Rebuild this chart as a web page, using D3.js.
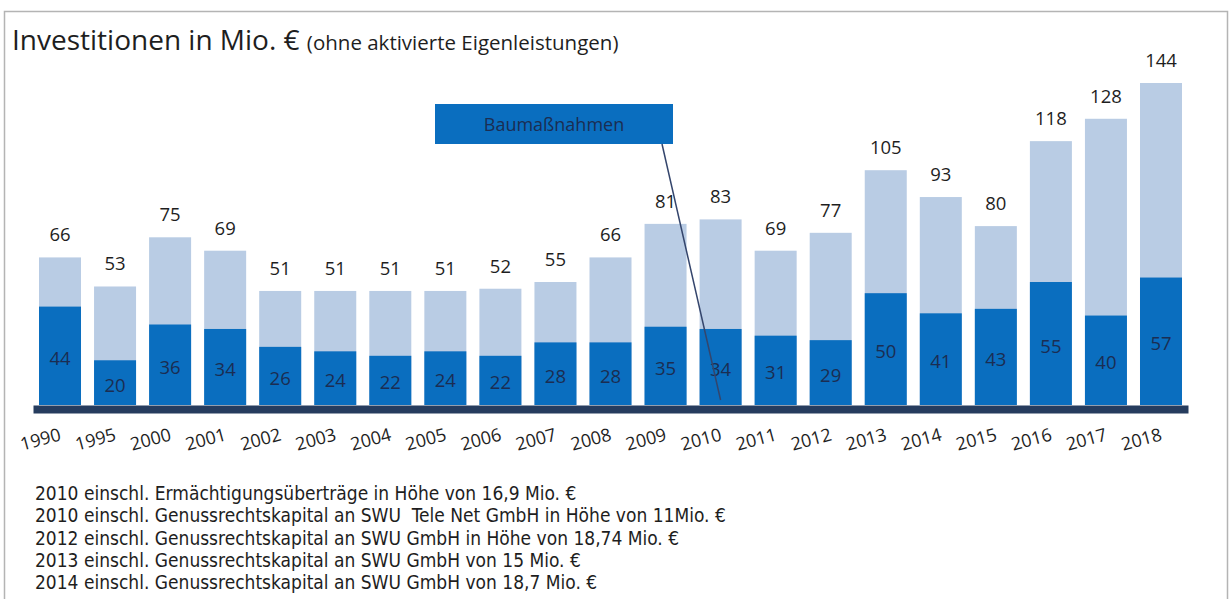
<!DOCTYPE html>
<html lang="de">
<head>
<meta charset="utf-8">
<title>Investitionen in Mio. €</title>
<script src="https://cdn.jsdelivr.net/npm/d3@7"></script>
<style>
  body { margin: 0; background: #fff; }
  svg { display: block; font-family: "Open Sans", sans-serif; }
</style>
</head>
<body>
<script>
// data
var years = ["1990","1995","2000","2001","2002","2003","2004","2005","2006","2007",
             "2008","2009","2010","2011","2012","2013","2014","2015","2016","2017","2018"];
var totals = [66, 53, 75, 69, 51, 51, 51, 51, 52, 55, 66, 81, 83, 69, 77, 105, 93, 80, 118, 128, 144];
var bau    = [44, 20, 36, 34, 26, 24, 22, 24, 22, 28, 28, 35, 34, 31, 29, 50, 41, 43, 55, 40, 57];
var notes = [
  "2010 einschl. Ermächtigungsüberträge in Höhe von 16,9 Mio. €",
  "2010 einschl. Genussrechtskapital an SWU  Tele Net GmbH in Höhe von 11Mio. €",
  "2012 einschl. Genussrechtskapital an SWU GmbH in Höhe von 18,74 Mio. €",
  "2013 einschl. Genussrechtskapital an SWU GmbH von 15 Mio. €",
  "2014 einschl. Genussrechtskapital an SWU GmbH von 18,7 Mio. €"
];

var w = 1230, h = 599;
var base = 405;

var rows = years.map(function(y, i) { return { year: y, total: totals[i], bau: bau[i] }; });

var x = d3.scaleBand()
  .domain(years)
  .range([33, 1188])
  .paddingInner(0.237)
  .paddingOuter(0.109);

var y = d3.scaleLinear()
  .domain([0, 144])
  .range([base, 83]);

var svg = d3.select("body").append("svg")
  .attr("width", w)
  .attr("height", h);

// frame
svg.append("path")
  .attr("d", "M4.5," + h + "V11.5H1227.5V" + h)
  .attr("fill", "none")
  .attr("stroke", "#b4b4b4")
  .attr("stroke-width", 1.5);

// title
var title = svg.append("text")
  .attr("x", 12)
  .attr("y", 50)
  .attr("fill", "#1e1e1e");
title.append("tspan").attr("font-size", "28px").text("Investitionen in Mio. € ");
title.append("tspan").attr("font-size", "20.5px").text("(ohne aktivierte Eigenleistungen)");

// total bars
svg.selectAll("rect.total")
  .data(rows)
  .enter().append("rect")
  .attr("class", "total")
  .attr("x", function(d) { return x(d.year); })
  .attr("y", function(d) { return y(d.total); })
  .attr("width", x.bandwidth())
  .attr("height", function(d) { return base - y(d.total); })
  .attr("fill", "#b9cce4");

// Baumaßnahmen bars
svg.selectAll("rect.bau")
  .data(rows)
  .enter().append("rect")
  .attr("class", "bau")
  .attr("x", function(d) { return x(d.year); })
  .attr("y", function(d) { return y(d.bau); })
  .attr("width", x.bandwidth())
  .attr("height", function(d) { return base - y(d.bau); })
  .attr("fill", "#0a6ebf");

// total labels
svg.selectAll("text.tot")
  .data(rows)
  .enter().append("text")
  .attr("class", "tot")
  .attr("text-anchor", "middle")
  .attr("x", function(d) { return x(d.year) + x.bandwidth() / 2; })
  .attr("y", function(d) { return y(d.total) - 16; })
  .attr("font-size", "18.5px")
  .attr("fill", "#1e1e1e")
  .text(function(d) { return d.total; });

// inner labels
svg.selectAll("text.bauLbl")
  .data(rows)
  .enter().append("text")
  .attr("class", "bauLbl")
  .attr("text-anchor", "middle")
  .attr("x", function(d) { return x(d.year) + x.bandwidth() / 2; })
  .attr("y", function(d) { return (y(d.bau) + base) / 2 + 9; })
  .attr("font-size", "18.5px")
  .attr("fill", "#1b2d52")
  .text(function(d) { return d.bau; });

// axis with thick baseline
var axis = svg.append("g")
  .attr("transform", "translate(0," + (base + 4) + ")")
  .call(d3.axisBottom(x).tickSize(0).tickSizeOuter(0));
axis.select(".domain")
  .attr("stroke", "#263c5e")
  .attr("stroke-width", 8);
axis.selectAll(".tick text")
  .attr("font-family", "\"Open Sans\", sans-serif")
  .attr("font-size", "18px")
  .attr("fill", "#1e1e1e")
  .attr("text-anchor", "end")
  .attr("dy", 0)
  .attr("x", 2)
  .attr("y", 31)
  .attr("transform", "rotate(-15, 2, 31)");

// callout
var box = { x: 435, y: 104, w: 238, h: 40 };
svg.append("rect")
  .attr("x", box.x).attr("y", box.y)
  .attr("width", box.w).attr("height", box.h)
  .attr("fill", "#0a6ebf");
svg.append("text")
  .attr("x", box.x + box.w / 2)
  .attr("y", box.y + 27)
  .attr("text-anchor", "middle")
  .attr("font-size", "18px")
  .attr("fill", "#1b2d52")
  .text("Baumaßnahmen");
svg.append("line")
  .attr("x1", 662).attr("y1", box.y + box.h)
  .attr("x2", x("2010") + x.bandwidth() / 2).attr("y2", base - 5)
  .attr("stroke", "#34456c")
  .attr("stroke-width", 1.5);

// footnotes
svg.selectAll("text.note")
  .data(notes)
  .enter().append("text")
  .attr("class", "note")
  .attr("x", 35)
  .attr("y", function(d, i) { return 500 + i * 22.3; })
  .attr("font-family", "\"DejaVu Sans Condensed\", \"Open Sans\", sans-serif")
  .attr("font-size", "19px")
  .attr("fill", "#1e1e1e")
  .style("white-space", "pre")
  .text(function(d) { return d; });
</script>
</body>
</html>
